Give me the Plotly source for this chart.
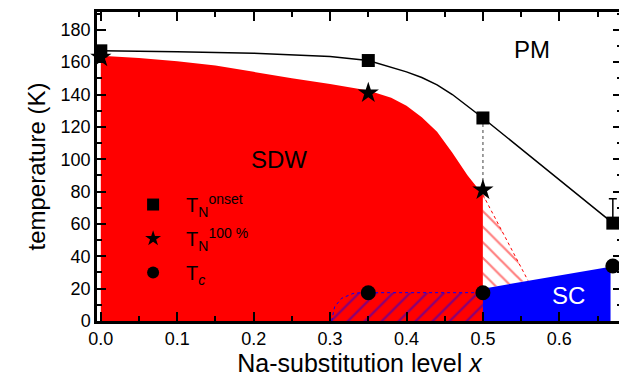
import plotly.graph_objects as go

# ---- data ----
x_onset = [0.0, 0.35, 0.5, 0.67]
t_onset = [167, 161, 125.5, 60.5]
t_onset_err_plus = [0, 0, 0, 15]

x_full = [0.0, 0.35, 0.5]
t_full = [163, 141, 81]

x_tc = [0.35, 0.5, 0.67]
t_tc = [17.5, 17.5, 34]

# guide-to-the-eye line through T_N onset
guide_x = [0.0, 0.1, 0.2, 0.3, 0.35, 0.38, 0.4, 0.42, 0.44, 0.46, 0.48, 0.5, 0.67]
guide_y = [167, 166.5, 165.5, 163.5, 161, 157, 154, 150.5, 146, 140, 133, 125.5, 60.5]

# SDW phase boundary (upper edge of red region)
sdw_x = [0.0, 0.05, 0.1, 0.15, 0.2, 0.25, 0.3, 0.35, 0.38, 0.4, 0.42, 0.44, 0.46, 0.48, 0.5]
sdw_y = [164, 162.5, 160.5, 158, 154, 150, 146.5, 142.5, 138, 133, 126, 117, 104, 90, 78]

# SDW tail (hatched, x > 0.5)
tail_x = [0.5, 0.559, 0.5]
tail_y = [78, 25, 20]

# SC dome
sc_x = [0.5, 0.667, 0.667, 0.5]
sc_y = [20, 33.5, 0, 0]

# coexistence region (blue hatch on SDW)
coex_x = [0.302, 0.306, 0.315, 0.33, 0.34, 0.5, 0.5]
coex_y = [0, 8.8, 14, 17, 17.5, 17.5, 0]

FONT = "Liberation Sans, Arial, sans-serif"

fig = go.Figure()

# red SDW region
fig.add_trace(go.Scatter(
    x=[0.0] + sdw_x + [0.5], y=[0] + sdw_y + [0],
    fill="toself", fillcolor="#ff0000", mode="none",
    showlegend=False, hoverinfo="skip"))

# coexistence hatch
fig.add_trace(go.Scatter(
    x=coex_x, y=coex_y, fill="toself", mode="none",
    fillcolor="#ff0000",
    fillpattern=dict(shape="/", fgcolor="#0000ff", bgcolor="#ff0000",
                     size=12, solidity=0.18),
    showlegend=False, hoverinfo="skip"))
fig.add_trace(go.Scatter(
    x=coex_x[:6], y=coex_y[:6], mode="lines",
    line=dict(color="#0000ff", width=1, dash="dot"),
    showlegend=False, hoverinfo="skip"))

# red hatched tail
fig.add_trace(go.Scatter(
    x=tail_x, y=tail_y, fill="toself", mode="none",
    fillcolor="white",
    fillpattern=dict(shape="\\", fgcolor="#ff0000", bgcolor="white",
                     size=11, solidity=0.2),
    showlegend=False, hoverinfo="skip"))
fig.add_trace(go.Scatter(
    x=tail_x[:2], y=tail_y[:2], mode="lines",
    line=dict(color="#ff0000", width=1, dash="dot"),
    showlegend=False, hoverinfo="skip"))

# SC region
fig.add_trace(go.Scatter(
    x=sc_x, y=sc_y, fill="toself", fillcolor="#0000ff", mode="none",
    showlegend=False, hoverinfo="skip"))

# guide line
fig.add_trace(go.Scatter(
    x=guide_x, y=guide_y, mode="lines",
    line=dict(color="black", width=1.5),
    showlegend=False, hoverinfo="skip"))

# gray dotted vertical line between onset and 100% at x=0.5
fig.add_trace(go.Scatter(
    x=[x_onset[2], x_full[2]], y=[t_onset[2], t_full[2]], mode="lines",
    line=dict(color="gray", width=1.5, dash="dot"),
    showlegend=False, hoverinfo="skip"))

# markers
fig.add_trace(go.Scatter(
    x=x_full, y=t_full, mode="markers",
    marker=dict(symbol="star", size=16, color="black"),
    name="T<sub>N</sub><sup>100 %</sup>", cliponaxis=False, legendrank=2,
    legendgroup="b"))
fig.add_trace(go.Scatter(
    x=x_onset, y=t_onset, mode="markers",
    marker=dict(symbol="square", size=13, color="black"),
    error_y=dict(type="data", symmetric=False, array=t_onset_err_plus,
                 arrayminus=[0, 0, 0, 0], color="black", thickness=1.5, width=4),
    name="T<sub>N</sub><sup>onset</sup>", cliponaxis=False, legendrank=1,
    legendgroup="a"))
fig.add_trace(go.Scatter(
    x=x_tc, y=t_tc, mode="markers",
    marker=dict(symbol="circle", size=15, color="black"),
    name="T<sub><i>c</i></sub>", cliponaxis=False, legendrank=3,
    legendgroup="c"))

# phase labels
fig.add_annotation(x=0.564, y=167.6, text="PM", showarrow=False,
                   font=dict(family=FONT, size=24, color="black"))
fig.add_annotation(x=0.233, y=99.6, text="SDW", showarrow=False,
                   font=dict(family=FONT, size=24, color="black"))
fig.add_annotation(x=0.612, y=16, text="SC", showarrow=False,
                   font=dict(family=FONT, size=24, color="white"))

axis_common = dict(
    showgrid=False, zeroline=False, showline=True, linecolor="black",
    linewidth=2.5, mirror="allticks", ticks="inside", tickwidth=2,
    ticklen=9, tickcolor="black",
    tickfont=dict(family=FONT, size=18, color="black"),
)

fig.update_xaxes(
    range=[-0.005, 0.682], tick0=0, dtick=0.1, tickformat=".1f",
    minor=dict(ticks="inside", ticklen=5, tickwidth=2, dtick=0.05, tickcolor="black"),
    title=dict(text="Na-substitution level <i>x</i>",
               font=dict(family=FONT, size=25, color="black"), standoff=6),
    **axis_common)
fig.update_yaxes(
    range=[0, 191], tick0=0, dtick=20,
    minor=dict(ticks="inside", ticklen=5, tickwidth=2, dtick=10, tickcolor="black"),
    title=dict(text="temperature (K)",
               font=dict(family=FONT, size=24, color="black"), standoff=9),
    **axis_common)

# the page body has an 8px margin, so the figure is sized to fit the window
fig.update_layout(
    width=619, height=369,
    margin=dict(l=89, r=5, t=4, b=56, autoexpand=False),
    plot_bgcolor="white", paper_bgcolor="white",
    font=dict(family=FONT, color="black"),
    legend=dict(x=0.044, y=0.44, xanchor="left", yanchor="top",
                bgcolor="rgba(0,0,0,0)", font=dict(family=FONT, size=20),
                tracegroupgap=5, itemsizing="constant", itemwidth=56),
)

fig.write_html("out.html")
